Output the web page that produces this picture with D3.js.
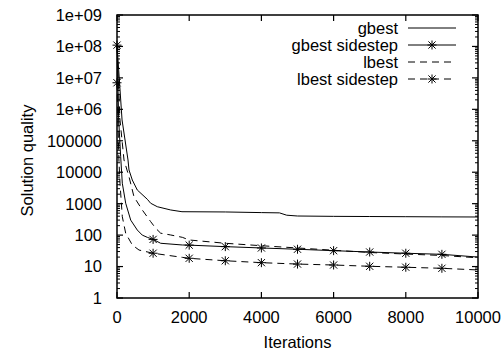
<!DOCTYPE html>
<html><head><meta charset="utf-8">
<script src="https://cdn.jsdelivr.net/npm/d3@7"></script>
<style>body{margin:0;background:#fff}svg{display:block}text{font-family:"Liberation Sans",Arial,sans-serif;fill:#000}</style>
</head><body><div id="c"></div>
<script>
const xTicks = [0, 2000, 4000, 6000, 8000, 10000];
const yTicks = [1, 10, 100, 1000, 10000, 100000, 1e6, 1e7, 1e8, 1e9];
const yTickLabels = ["1","10","100","1000","10000","100000","1e+06","1e+07","1e+08","1e+09"];
const seriesNames = ["gbest", "gbest sidestep", "lbest", "lbest sidestep"];

const gbestIter = [0, 140, 305, 332, 424, 562, 840, 933, 1116, 1487, 1800, 3000, 4000, 4500, 4700, 5000, 6000, 7000, 8000, 9000, 10000];
const gbestVal  = [1.1e8, 4.6e5, 2.45e4, 1.18e4, 5650, 2720, 1380, 1030, 800, 630, 555, 545, 520, 510, 430, 405, 395, 390, 385, 380, 377];

const gsIter = [0, 47, 102, 147, 241, 380, 562, 700, 840, 1000, 1210, 1810, 2000, 3000, 4000, 5000, 6000, 7000, 8000, 9000, 10000];
const gsVal  = [1.1e8, 4.6e5, 3.1e4, 4470, 1030, 300, 145, 100, 85, 73, 55, 48.5, 48, 43, 39, 35.5, 32, 29, 26.5, 24.5, 20];

const lbestIter = [0, 83, 194, 332, 471, 700, 933, 1072, 1210, 1487, 1810, 2000, 3000, 4000, 5000, 6000, 7000, 8000, 9000, 10000];
const lbestVal  = [1e8, 4.6e5, 2.45e4, 7200, 1650, 630, 268, 165, 115, 101, 85, 70, 55, 46, 39, 33, 28, 25, 22.5, 19];

const lsIter = [0, 25, 53, 83, 147, 241, 424, 610, 1000, 1810, 2000, 3000, 4000, 5000, 6000, 7000, 8000, 9000, 10000];
const lsVal  = [7e6, 5e5, 2.45e4, 4470, 385, 114, 48.5, 33.5, 26.5, 19.6, 18.3, 15.3, 13.3, 12, 11.2, 10.2, 9.5, 8.8, 7.8];

const W = 504, H = 352;
const L = 117, R = 478, T = 15, B = 298;
const FS = 16.5;
const svg = d3.select("#c").append("svg").attr("width", W).attr("height", H);
const x = d3.scaleLinear().domain([0, 10000]).range([L, R]);
const y = d3.scaleLog().domain([1, 1e9]).range([B, T]);

const g = svg.append("g");
// minor y ticks
const minor = [];
for (let k = 0; k < 9; k++) for (let m = 2; m <= 9; m++) minor.push(m * Math.pow(10, k));
minor.forEach(v => {
  g.append("line").attr("x1", L).attr("x2", L + 3).attr("y1", y(v)).attr("y2", y(v)).attr("stroke", "#000").attr("stroke-width", 1);
  g.append("line").attr("x1", R).attr("x2", R - 3).attr("y1", y(v)).attr("y2", y(v)).attr("stroke", "#000").attr("stroke-width", 1);
});
yTicks.forEach((v, i) => {
  g.append("line").attr("x1", L).attr("x2", L + 6).attr("y1", y(v)).attr("y2", y(v)).attr("stroke", "#000").attr("stroke-width", 1.2);
  g.append("line").attr("x1", R).attr("x2", R - 6).attr("y1", y(v)).attr("y2", y(v)).attr("stroke", "#000").attr("stroke-width", 1.2);
  g.append("text").attr("x", L - 15).attr("y", y(v)).attr("dy", "0.36em").attr("text-anchor", "end").attr("font-size", FS).text(yTickLabels[i]);
});
xTicks.forEach(v => {
  g.append("line").attr("x1", x(v)).attr("x2", x(v)).attr("y1", B).attr("y2", B - 6).attr("stroke", "#000").attr("stroke-width", 1.2);
  g.append("line").attr("x1", x(v)).attr("x2", x(v)).attr("y1", T).attr("y2", T + 6).attr("stroke", "#000").attr("stroke-width", 1.2);
  g.append("text").attr("x", x(v)).attr("y", 317).attr("dy", "0.36em").attr("text-anchor", "middle").attr("font-size", FS).text(d3.format("d")(v));
});
g.append("text").attr("x", (L + R) / 2).attr("y", 342).attr("dy", "0.36em").attr("text-anchor", "middle").attr("font-size", FS).text("Iterations");
g.append("text").attr("transform", `translate(27,${(T + B) / 2 + 4}) rotate(-90)`).attr("dy", "0.36em").attr("text-anchor", "middle").attr("font-size", FS).text("Solution quality");

const series = [
  {name: seriesNames[0], it: gbestIter, v: gbestVal, dash: null, mark: false},
  {name: seriesNames[1], it: gsIter, v: gsVal, dash: null, mark: true},
  {name: seriesNames[2], it: lbestIter, v: lbestVal, dash: "7,5", mark: false},
  {name: seriesNames[3], it: lsIter, v: lsVal, dash: "7,5", mark: true}
];
const line = d3.line().x(d => x(d[0])).y(d => y(d[1]));
function star(sel, cx, cy) {
  const s = 4.5;
  const p = `M${cx - s},${cy}H${cx + s}M${cx},${cy - s}V${cy + s}M${cx - s * 0.8},${cy - s * 0.8}L${cx + s * 0.8},${cy + s * 0.8}M${cx - s * 0.8},${cy + s * 0.8}L${cx + s * 0.8},${cy - s * 0.8}`;
  sel.append("path").attr("d", p).attr("stroke", "#000").attr("stroke-width", 1).attr("fill", "none");
}
series.forEach(s => {
  const pts = s.it.map((t, i) => [t, s.v[i]]);
  g.append("path").datum(pts).attr("d", line).attr("fill", "none").attr("stroke", "#000").attr("stroke-width", 1)
    .attr("stroke-dasharray", s.dash);
  if (s.mark) pts.filter(p => p[0] % 1000 === 0 && p[0] < 10000).forEach(p => star(g, x(p[0]), y(p[1])));
});
// legend
series.forEach((s, i) => {
  const ly = 28 + i * 17;
  g.append("text").attr("x", 398).attr("y", ly).attr("dy", "0.36em").attr("text-anchor", "end").attr("font-size", FS).text(s.name);
  g.append("line").attr("x1", 408).attr("x2", 456).attr("y1", ly).attr("y2", ly).attr("stroke", "#000").attr("stroke-width", 1).attr("stroke-dasharray", s.dash);
  if (s.mark) star(g, 432, ly);
});
// border
g.append("rect").attr("x", L).attr("y", T).attr("width", R - L).attr("height", B - T).attr("fill", "none").attr("stroke", "#000").attr("stroke-width", 1.5);
</script></body></html>
